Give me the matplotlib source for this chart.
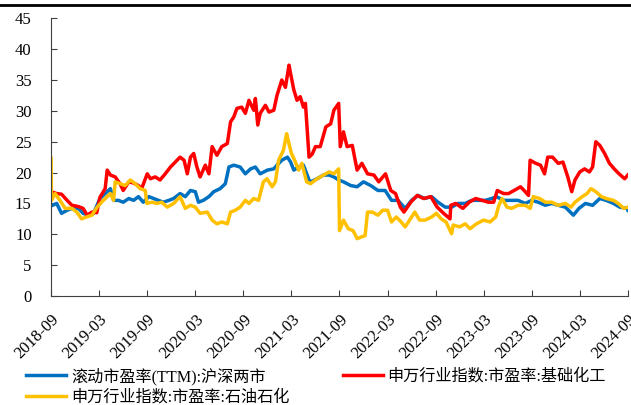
import matplotlib
matplotlib.use('Agg')
import matplotlib.pyplot as plt
from matplotlib.lines import Line2D

plt.rcParams['font.family'] = ['Liberation Serif', 'Noto Sans CJK SC']

# x = months since 2018-09
tick_labels = ['2018-09', '2019-03', '2019-09', '2020-03', '2020-09', '2021-03', '2021-09',
               '2022-03', '2022-09', '2023-03', '2023-09', '2024-03', '2024-09']

name_all = '滚动市盈率(TTM):沪深两市'
name_chem = '申万行业指数:市盈率:基础化工'
name_oil = '申万行业指数:市盈率:石油石化'

m_all = [0, 0.7, 1.3, 2, 2.6, 3.4, 4, 4.6, 5.3, 6.1, 6.75, 7.4, 7.8, 8.4, 9, 9.7, 10.3, 10.9,
         11.5, 12.2, 12.8, 13.4, 14, 14.7, 15.3, 16.1, 16.75, 17.4, 18, 18.4, 19, 19.7, 20.3,
         21.1, 21.75, 22.2, 22.8, 23.6, 24.25, 24.9, 25.5, 26.1, 27, 27.8, 28.2, 28.8, 29.5,
         29.9, 30.3, 30.9, 31.5, 32.2, 32.4, 33.2, 34, 34.7, 35.3, 35.9, 36.5, 37.4, 38.2, 39,
         39.9, 40.8, 41.7, 42.5, 43.3, 44.2, 45, 45.8, 46.6, 47.5, 48.3, 49.2, 50, 50.8, 51.7,
         52.5, 53.3, 54.2, 55, 55.6, 56.5, 57.5, 58.3, 59.2, 60, 60.8, 61.7, 62.5, 63.3, 64.2,
         65.2, 65.9, 66.7, 67.6, 68.5, 69.3, 70.2, 71, 71.9, 72]
v_all = [14.6, 15.0, 13.4, 13.9, 14.2, 14.2, 13.4, 13.1, 13.4, 15.8, 16.6, 17.4, 15.5, 15.5,
         15.2, 15.8, 15.5, 16.1, 15.2, 16.1, 15.8, 15.5, 15.2, 15.5, 15.8, 16.6, 16.1, 17.1,
         16.9, 15.2, 15.5, 16.1, 16.9, 17.4, 18.2, 20.9, 21.2, 20.9, 19.8, 20.6, 20.9, 19.8,
         20.4, 20.6, 21.2, 22.0, 22.5, 21.7, 20.4, 20.9, 21.2, 18.8, 18.5, 19.0, 19.6, 19.6,
         19.3, 18.8, 18.5, 17.9, 17.7, 18.5, 17.9, 17.1, 17.1, 15.5, 15.5, 14.2, 15.5, 16.3,
         15.8, 16.1, 15.2, 14.4, 14.4, 15.0, 15.0, 15.5, 15.5, 15.5, 15.8, 16.1, 15.5, 15.5,
         15.5, 15.0, 15.5, 15.2, 14.7, 15.0, 14.7, 14.4, 13.1, 14.2, 15.0, 14.7, 15.8, 15.5,
         15.0, 14.4, 14.2, 13.9]

m_chem = [0, 0.7, 1.3, 2, 2.6, 3.4, 4, 4.5, 5.1, 5.7, 6.1, 6.75, 7, 7.4, 8, 8.6, 9, 9.7, 10.3,
          10.9, 11.3, 12, 12.4, 13, 13.6, 14.25, 14.9, 15.5, 16.1, 16.6, 17, 17.4, 17.8, 18.2,
          18.6, 19.25, 19.7, 20.1, 20.7, 21.3, 22, 22.4, 22.8, 23.2, 23.8, 24.25, 24.7, 25.3,
          25.5, 25.8, 26.1, 26.75, 27.2, 27.8, 28.2, 28.8, 29.25, 29.7, 29.9, 30.3, 30.7, 31.1,
          31.5, 31.75, 32.2, 32.6, 33.0, 33.6, 34.3, 34.9, 35.3, 35.9, 36.1, 36.5, 36.95, 37.6,
          38.2, 38.8, 39.5, 40.3, 40.9, 41.75, 42.4, 43, 43.6, 44.05, 44.9, 45.7, 46.5, 47.4,
          48.2, 49, 49.8, 49.9, 50.5, 51.4, 52.2, 53, 53.8, 54.6, 55.25, 55.7, 56.5, 57.1, 57.8,
          58.6, 59.2, 59.6, 59.8, 60.5, 61.1, 61.6, 62, 62.6, 63.3, 63.9, 64.5, 65, 65.4, 66,
          66.6, 67.2, 67.6, 68, 68.5, 69.1, 69.7, 70.3, 70.9, 71.6, 72]
v_chem = [16.9, 16.6, 16.5, 15.5, 14.7, 14.5, 14.2, 13.1, 13.6, 13.5, 16.0, 17.4, 20.4, 19.6,
          19.3, 18.2, 17.1, 18.5, 18.3, 17.9, 17.4, 19.8, 19.0, 19.3, 18.8, 19.8, 20.9, 21.7,
          22.5, 22.0, 19.8, 22.5, 23.1, 20.9, 19.3, 21.2, 19.8, 24.2, 22.8, 24.2, 24.7, 28.2,
          29.0, 30.4, 30.6, 29.6, 31.7, 30.1, 32.0, 27.7, 29.6, 30.9, 29.8, 30.1, 32.5, 35.0,
          33.8, 37.4, 36.0, 33.4, 31.7, 32.3, 30.6, 31.2, 22.5, 23.0, 24.2, 24.2, 27.4, 27.9,
          30.1, 31.2, 24.2, 26.6, 24.2, 24.4, 20.4, 21.5, 19.8, 19.6, 18.5, 19.8, 17.1, 16.6,
          14.4, 13.6, 15.2, 16.3, 15.8, 16.1, 14.4, 13.4, 12.5, 14.7, 15.0, 14.2, 15.2, 15.8,
          15.5, 15.2, 15.2, 17.1, 16.6, 16.6, 17.1, 17.7, 16.9, 16.3, 22.0, 21.5, 21.2, 19.8,
          22.5, 22.5, 21.5, 21.7, 19.3, 16.9, 18.8, 20.1, 20.6, 20.1, 20.9, 25.0, 24.4, 23.1,
          21.5, 20.6, 19.8, 19.0, 19.6]

m_oil = [0, 0.05, 0.5, 1.1, 1.75, 2.6, 3.2, 3.8, 4.4, 5.1, 5.75, 6.3, 7, 7.4, 7.8, 8, 8.6, 9.25,
         9.9, 10.5, 11.1, 11.75, 11.95, 12.6, 13.2, 13.8, 14.5, 15.3, 16.1, 16.75, 17.4, 18,
         18.6, 19.5, 20.1, 20.7, 21.3, 22, 22.4, 23, 23.6, 24.25, 24.7, 25.3, 25.9, 26.5, 26.95,
         27.6, 28, 28.4, 29, 29.4, 29.6, 30, 30.4, 30.9, 31.3, 31.9, 32.4, 33.2, 34, 34.7, 35.3,
         35.9, 36, 36.5, 37.1, 37.7, 38.2, 38.8, 39.2, 39.5, 40.1, 40.8, 41.4, 42, 42.5, 43.1,
         43.7, 44.2, 44.6, 45.4, 46, 46.7, 47.5, 48.1, 48.7, 49.3, 50, 50.2, 51, 51.7, 52.3,
         53.1, 54, 54.8, 55.5, 55.9, 56.3, 56.9, 57.5, 58.3, 59.2, 59.8, 60.2, 61, 61.7, 62.5,
         63.3, 64.2, 64.9, 65.4, 66.3, 66.9, 67.4, 68, 68.7, 69.3, 70.2, 70.8, 71.5, 72]
v_oil = [22.3, 15.5, 16.6, 15.5, 14.2, 14.2, 13.6, 12.5, 12.8, 13.1, 14.4, 15.2, 16.1, 16.6,
         15.5, 18.5, 18.2, 17.9, 18.8, 18.2, 17.4, 17.1, 15.0, 15.2, 15.0, 15.2, 14.4, 15.0,
         16.1, 14.2, 14.7, 14.4, 13.4, 13.6, 12.3, 11.7, 12.0, 11.7, 13.6, 13.9, 14.4, 15.5,
         15.0, 15.8, 15.5, 18.5, 19.0, 17.7, 18.5, 22.0, 23.6, 26.3, 25.2, 23.1, 22.0, 20.4,
         21.5, 18.5, 18.2, 19.0, 19.6, 20.1, 19.8, 20.6, 10.6, 12.3, 10.9, 10.6, 9.3, 9.6, 9.8,
         13.6, 13.6, 13.1, 13.9, 13.9, 12.0, 12.8, 12.0, 11.2, 12.0, 13.6, 12.3, 12.3, 12.8,
         13.4, 12.5, 12.0, 10.1, 11.5, 11.2, 11.7, 10.9, 11.7, 12.3, 12.0, 12.8, 14.7, 15.8,
         14.4, 14.2, 14.7, 14.7, 14.2, 16.1, 15.8, 15.2, 15.2, 14.7, 15.0, 14.4, 15.2, 16.1,
         16.6, 17.4, 16.9, 16.1, 15.8, 15.5, 15.0, 14.2, 14.4]

fig = plt.figure(figsize=(6.31, 4.05), dpi=100)
ax = fig.add_axes([0.081, 0.269, 0.914, 0.686])

#-- linee
l_all, = ax.plot(m_all, v_all, color='#0070C0', linewidth=2.5, label=name_all)
l_chem, = ax.plot(m_chem, v_chem, color='#FF0000', linewidth=2.5, label=name_chem)
l_oil, = ax.plot(m_oil, v_oil, color='#FFC000', linewidth=2.5, label=name_oil)
#--

#-- assi
ax.set_xlim(0, 72)
ax.set_ylim(0, 45)
ax.set_yticks(range(0, 46, 5))
ax.set_xticks(range(0, 73, 6))
ax.set_xticklabels(tick_labels, rotation=45, ha='right', rotation_mode='anchor')
ax.tick_params(axis='both', direction='in', labelsize=12, colors='#404040', labelcolor='black', length=4)
ax.tick_params(axis='x', pad=11)
ax.tick_params(axis='y', pad=14)
for s in ['top', 'right']:
    ax.spines[s].set_visible(False)
for s in ['left', 'bottom']:
    ax.spines[s].set_color('#404040')
#--

#-- legenda
fig.legend(handles=[l_all, l_oil, l_chem], loc='upper left', bbox_to_anchor=(0.041, 0.093),
           ncol=2, frameon=False, fontsize=11.6, handlelength=2.5, handletextpad=0.3,
           columnspacing=3.3, borderaxespad=0, borderpad=0, labelspacing=0.3)
#--

fig.add_artist(Line2D([0, 1], [0.987, 0.987], color='black', linewidth=2, transform=fig.transFigure))

fig.savefig('out.png', dpi=100)
